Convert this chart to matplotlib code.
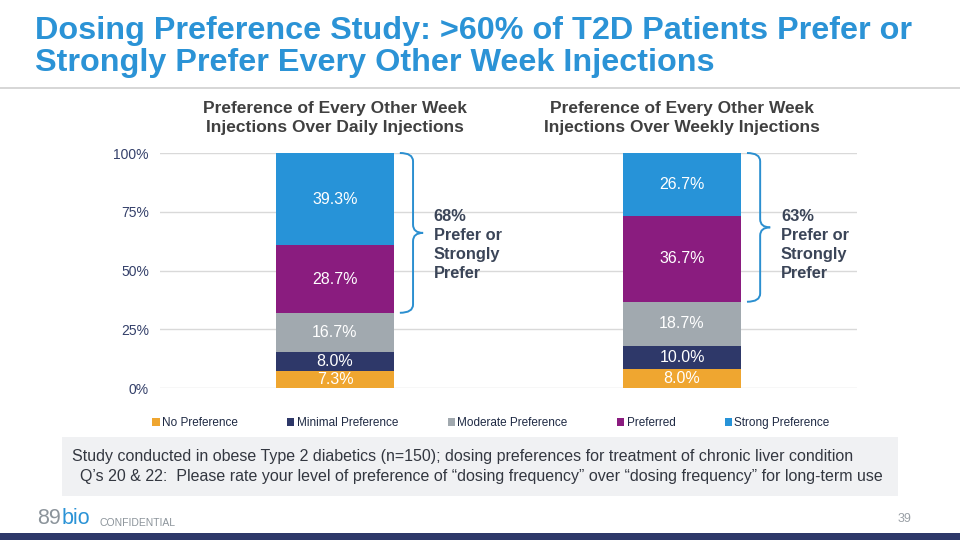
import numpy as np
import matplotlib
matplotlib.use("Agg")
import matplotlib.pyplot as plt
from matplotlib.path import Path
from matplotlib.patches import PathPatch, Rectangle

plt.rcParams['font.family'] = ['Liberation Sans', 'DejaVu Sans']

# data
categories = ["No Preference", "Minimal Preference", "Moderate Preference", "Preferred", "Strong Preference"]
daily = [7.3, 8.0, 16.7, 28.7, 39.3]
weekly = [8.0, 10.0, 18.7, 36.7, 26.7]
panel_titles = ["Preference of Every Other Week\nInjections Over Daily Injections",
                "Preference of Every Other Week\nInjections Over Weekly Injections"]
brace_labels = ["68%\nPrefer or\nStrongly\nPrefer", "63%\nPrefer or\nStrongly\nPrefer"]
yticks = [0, 25, 50, 75, 100]
colors = ["#EFA630", "#2E3869", "#A1A9AF", "#8A1C7F", "#2793D8"]

W, H = 960, 540
fig = plt.figure(figsize=(9.6, 5.4), dpi=100)

def fx(x):
    return x / W

def fy(y):
    return 1 - y / H

# title
title_col = "#2B93D6"
fig.text(fx(35), fy(31), "Dosing Preference Study: >60% of T2D Patients Prefer or",
         fontsize=23.3, fontweight='bold', color=title_col, va='center', ha='left')
fig.text(fx(35), fy(63), "Strongly Prefer Every Other Week Injections",
         fontsize=23.3, fontweight='bold', color=title_col, va='center', ha='left')
fig.add_artist(plt.Line2D([0, 1], [fy(88), fy(88)], color="#D0D0D0", lw=1.2))

# chart
ax = fig.add_axes([fx(160), fy(388), fx(857 - 160), (388 - 153) / H])
xpos = np.array([0, 1])
data = np.array([daily, weekly])
bottoms = np.zeros(2)
for i, cat in enumerate(categories):
    vals = data[:, i]
    ax.bar(xpos, vals, 0.34, bottom=bottoms, color=colors[i], label=cat, zorder=3)
    for j in range(2):
        ax.text(xpos[j], bottoms[j] + vals[j] / 2, f"{vals[j]:.1f}%", ha='center', va='center',
                color='white', fontsize=11.5, zorder=4)
    bottoms = bottoms + vals

ax.set_xlim(-0.504, 1.504)
ax.set_ylim(0, 100)
ax.set_yticks(yticks)
ax.set_yticklabels([f"{t}%" for t in yticks], fontsize=10, color="#34406A")
ax.set_xticks([])
ax.grid(axis='y', color="#D9D9D9", lw=1, zorder=0)
for s in ax.spines.values():
    s.set_visible(False)
ax.tick_params(axis='y', length=0, pad=8)

# braces
def brace(ax, x0, ytop, ybot, dx_spine=0.038, dx_tip=0.067, r=3.5):
    xs = x0 + dx_spine
    xt = x0 + dx_tip
    ym = (ytop + ybot) / 2
    p1 = Path([(x0, ytop), (xs, ytop), (xs, ytop - r), (xs, ym + r), (xs, ym), (xt, ym)],
              [Path.MOVETO, Path.CURVE3, Path.CURVE3, Path.LINETO, Path.CURVE3, Path.CURVE3])
    p2 = Path([(xt, ym), (xs, ym), (xs, ym - r), (xs, ybot + r), (xs, ybot), (x0, ybot)],
              [Path.MOVETO, Path.CURVE3, Path.CURVE3, Path.LINETO, Path.CURVE3, Path.CURVE3])
    for p in (p1, p2):
        ax.add_patch(PathPatch(p, fill=False, edgecolor="#2B8FD0", lw=1.4, clip_on=False, zorder=5))

for j in range(2):
    top = 100
    bot = data[j, 0] + data[j, 1] + data[j, 2]
    brace(ax, xpos[j] + 0.187, top, bot)
    ax.text(xpos[j] + 0.285, 76.2, brace_labels[j], ha='left', va='top', fontsize=11.8,
            fontweight='bold', color="#3B4558", linespacing=1.33)

# panel titles
for j, t in enumerate(panel_titles):
    fig.text(fx(335 + 347 * j), fy(118), t, ha='center', va='center', fontsize=12.5,
             fontweight='bold', color="#404040", linespacing=1.4)

# legend
fig.legend(*ax.get_legend_handles_labels(), loc='center', bbox_to_anchor=(fx(491), fy(423)),
           ncol=5, frameon=False, fontsize=8.5, handlelength=0.6, handleheight=0.6,
           handletextpad=0.2, columnspacing=4.2, labelcolor="#1F2A44")

# note box
fig.add_artist(Rectangle((fx(62), fy(496)), fx(898 - 62), (496 - 437) / H,
                         facecolor="#F0F1F3", edgecolor='none'))
fig.text(fx(72), fy(456), "Study conducted in obese Type 2 diabetics (n=150); dosing preferences for treatment of chronic liver condition",
         fontsize=11.5, color="#333740", va='center', ha='left')
fig.text(fx(80), fy(476), "Q\u2019s 20 & 22:  Please rate your level of preference of \u201cdosing frequency\u201d over \u201cdosing frequency\u201d for long-term use",
         fontsize=11.5, color="#333740", va='center', ha='left')

# footer
fig.text(fx(37), fy(518), "89", fontsize=15.5, color="#8C949B", va='center', ha='left')
fig.text(fx(62), fy(518), "bio", fontsize=15.5, color="#2B93D6", va='center', ha='left')
fig.text(fx(100), fy(523), "CONFIDENTIAL", fontsize=7.5, color="#8C949B", va='center', ha='left')
fig.text(fx(905), fy(519), "39", fontsize=9, color="#9AA0A6", va='center', ha='center')
fig.add_artist(Rectangle((0, 0), 1, 7 / H, facecolor="#2E3869", edgecolor='none'))

fig.savefig("out.png", dpi=100)
